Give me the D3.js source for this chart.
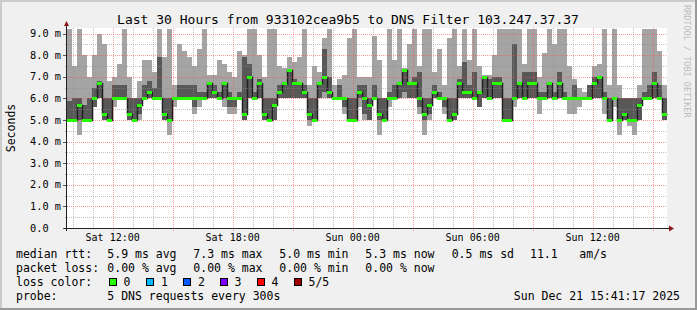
<!DOCTYPE html>
<html><head><meta charset="utf-8">
<script src="https://cdn.jsdelivr.net/npm/d3@7"></script>
<style>
body{margin:0;background:#f0f0f0}
svg{display:block}
text{font-family:"DejaVu Sans Mono",monospace;fill:#000}
</style>
</head><body><svg id="c" width="697" height="310"></svg>
<script>
// ---------- data ----------
const titleText = "Last 30 Hours from 933102cea9b5 to DNS Filter 103.247.37.37";
const startTime = new Date(Date.UTC(2025, 11, 20, 9, 43));
const endTime = new Date(Date.UTC(2025, 11, 21, 15, 43));
const stepMinutes = 15;

// median rtt per 15 min sample (ms)
const medianRtt = [
5.0,5.0,5.7,5.0,5.0,6.0,6.7,5.3,5.0,6.0, 6.0,6.0,5.3,5.0,5.7,6.0,6.3,6.0,6.0,5.3,
5.0,6.0,6.0,6.0,6.0,6.0,6.0,6.0,6.7,6.3, 6.0,6.7,6.0,6.0,6.0,5.3,7.0,6.0,6.7,5.3,
5.0,5.7,6.3,6.7,7.3,6.7,6.7,6.3,5.3,5.0, 6.7,7.0,6.3,6.0,6.0,6.0,5.0,5.0,6.3,6.0,
5.7,6.0,5.3,5.0,6.0,6.0,6.7,7.3,6.7,6.7, 6.0,5.3,5.7,6.3,6.0,6.0,5.0,5.3,6.7,6.3,
6.3,6.0,6.3,7.0,6.0,6.7,6.7,5.0,5.0,6.0, 6.7,6.0,6.7,6.7,6.0,6.0,6.7,6.0,6.7,6.0,
6.0,6.0,6.0,6.0,6.0,6.7,7.0,6.0,5.0,6.0, 5.0,5.3,5.0,5.0,5.7,6.0,6.0,6.7,6.0,5.3
];
// smoke: sorted pings (min, 2nd, 4th, max) per sample (ms)
const pingMin = [
4.9,4.9,4.3,4.9,5.0,5.6,6.0,5.0,4.9,5.6, 6.0,6.0,5.0,4.9,5.0,6.0,6.0,6.0,6.0,5.0,
4.3,5.6,6.0,6.0,6.0,5.3,5.6,6.0,6.0,6.0, 6.0,5.6,5.3,5.3,6.0,5.0,6.0,6.0,6.0,5.0,
5.0,5.0,6.0,6.0,6.0,6.0,6.0,6.0,4.7,5.0, 6.0,6.0,6.0,6.0,6.0,5.3,5.0,5.0,5.6,5.0,
5.0,6.0,4.3,4.9,5.6,6.0,6.0,6.0,6.0,6.0, 5.3,4.3,5.0,6.0,6.0,5.3,5.0,5.0,6.0,6.0,
6.0,6.0,5.6,6.0,6.0,6.0,6.0,5.0,5.0,5.6, 6.0,6.0,6.0,6.0,5.3,6.0,6.0,6.0,6.0,6.0,
5.3,5.3,5.6,6.0,6.0,6.0,6.0,5.3,5.0,5.6, 4.3,5.0,4.7,4.3,5.0,6.0,6.0,6.0,6.0,5.0
];
const pingLo = [
5.0,5.0,5.0,5.0,5.0,5.6,6.0,5.0,5.0,6.0, 6.0,6.0,5.0,5.0,5.3,6.0,6.0,6.0,6.0,5.0,
5.0,6.0,6.0,6.0,6.0,5.6,6.0,6.0,6.0,6.0, 6.0,6.0,5.6,5.6,6.0,5.0,6.0,6.0,6.0,5.0,
5.0,5.0,6.0,6.0,6.0,6.0,6.0,6.0,5.0,5.0, 6.0,6.3,6.0,6.0,6.0,5.6,5.0,5.0,6.0,5.3,
5.0,6.0,5.0,5.0,6.0,6.0,6.0,6.3,6.0,6.0, 5.6,5.0,5.3,6.0,6.0,5.6,5.0,5.0,6.0,6.0,
6.0,6.0,5.6,6.0,6.0,6.0,6.0,5.0,5.0,6.0, 6.0,6.0,6.0,6.0,6.0,6.0,6.0,6.0,6.0,6.0,
6.0,6.0,6.0,6.0,6.0,6.0,6.0,6.0,5.0,6.0, 5.0,5.0,5.0,5.0,5.0,6.0,6.0,6.0,6.0,5.0
];
const pingHi = [
5.9,6.0,6.0,5.7,6.0,6.5,6.8,6.0,6.0,6.6, 6.6,6.6,6.0,6.0,6.0,6.6,6.8,6.5,7.9,6.0,
6.0,6.0,6.6,6.6,6.6,6.6,6.3,6.3,6.7,6.6, 6.3,6.7,6.3,6.0,6.3,7.9,7.6,6.3,6.9,6.0,
6.0,6.0,6.6,6.7,7.3,6.9,6.7,6.6,6.0,6.0, 6.7,8.3,7.0,6.0,6.6,6.0,6.0,6.0,6.6,6.6,
6.0,6.6,6.0,6.0,6.3,6.6,6.7,7.3,6.7,7.0, 7.2,6.0,6.0,6.6,6.3,6.0,6.0,6.0,6.9,7.7,
6.6,7.2,6.3,7.0,6.9,7.0,7.0,6.0,6.0,8.5, 6.7,7.2,7.2,7.2,6.3,6.3,6.7,6.3,7.2,6.3,
6.0,6.6,6.0,6.0,6.6,7.0,7.0,6.3,6.0,6.0, 6.0,6.0,6.0,6.0,6.0,6.3,6.6,7.2,6.6,6.0
];
const pingMax = [
9.2,7.5,9.2,8.0,7.0,8.0,9.0,8.5,6.8,7.0, 7.6,9.2,7.0,6.0,6.8,7.8,7.8,7.2,9.2,7.9,
9.2,6.6,8.5,8.2,7.9,7.5,8.3,9.2,7.1,7.1, 7.8,7.6,7.2,7.0,8.2,8.0,9.2,9.2,8.0,7.0,
9.2,9.2,7.5,7.4,7.9,7.7,7.9,9.2,6.6,7.5, 7.2,8.8,9.2,6.6,6.9,7.1,8.8,9.2,7.0,7.0,
7.0,8.9,7.8,6.0,9.2,7.8,9.2,7.4,8.5,9.2, 7.5,9.2,9.2,7.2,8.3,6.6,8.8,9.2,7.5,9.2,
7.8,9.2,7.5,7.1,7.1,8.0,9.2,9.2,9.2,9.2, 9.2,7.6,9.2,9.2,7.0,8.1,9.2,8.5,9.2,9.2,
7.5,6.9,6.5,6.3,6.6,7.5,7.6,9.2,6.6,9.2, 6.6,6.0,6.0,6.0,6.6,9.2,9.2,9.2,8.2,6.6
];

const yTickValues = [0,1,2,3,4,5,6,7,8,9];
const yTickLabels = ["0.0","1.0 m","2.0 m","3.0 m","4.0 m","5.0 m","6.0 m","7.0 m","8.0 m","9.0 m"];
const xTickTimes = [
  new Date(Date.UTC(2025,11,20,12)), new Date(Date.UTC(2025,11,20,18)),
  new Date(Date.UTC(2025,11,21,0)), new Date(Date.UTC(2025,11,21,6)),
  new Date(Date.UTC(2025,11,21,12))
];
const xTickLabels = ["Sat 12:00","Sat 18:00","Sun 00:00","Sun 06:00","Sun 12:00"];

const lossColorLabels = ["0","1","2","3","4","5/5"];
const lossColors = ["#26ff00","#00b8ff","#0059ff","#7e00ff","#ff0000","#a10000"];
const rttRow = ["5.9 ms avg","7.3 ms max","5.0 ms min","5.3 ms now","0.5 ms sd","11.1","am/s"];
const lossRow = ["0.00 % avg","0.00 % max","0.00 % min","0.00 % now"];
const probeText = "5 DNS requests every 300s";
const stampText = "Sun Dec 21 15:41:17 2025";

// ---------- drawing ----------
const svg = d3.select("#c");
const W = 697, H = 310;
const L = 67, R = 667, T = 28, B = 228;

svg.append("rect").attr("width", W).attr("height", H).attr("fill", "#f0f0f0");
// frame
svg.append("rect").attr("x",0).attr("y",0).attr("width",W).attr("height",2).attr("fill","#cbcbcb");
svg.append("rect").attr("x",0).attr("y",0).attr("width",2).attr("height",H).attr("fill","#cbcbcb");
svg.append("rect").attr("x",0).attr("y",H-2).attr("width",W).attr("height",2).attr("fill","#999");
svg.append("rect").attr("x",W-2).attr("y",0).attr("width",2).attr("height",H).attr("fill","#999");

svg.append("rect").attr("x", L).attr("y", T).attr("width", R-L).attr("height", B-T).attr("fill", "#fff");

const x = d3.scaleUtc().domain([startTime, endTime]).range([L, R]);
const y = d3.scaleLinear().domain([0, 9.259]).range([B, T]);
const tAt = i => new Date(startTime.getTime() + i*stepMinutes*60000);

const plot = svg.append("g").attr("shape-rendering","crispEdges");
const bands = [
  {lo: pingMin, hi: pingLo, color: "#a4a4a4"},
  {lo: pingLo, hi: medianRtt, color: "#585858"},
  {lo: medianRtt, hi: pingHi, color: "#585858"},
  {lo: pingHi, hi: pingMax, color: "#a4a4a4"}
];
bands.forEach(b => {
  plot.append("g").selectAll("rect").data(d3.range(medianRtt.length).filter(i => b.hi[i] > b.lo[i]))
    .join("rect")
    .attr("x", i => x(tAt(i)))
    .attr("width", i => x(tAt(i+1)) - x(tAt(i)))
    .attr("y", i => y(Math.min(b.hi[i], 9.259)))
    .attr("height", i => y(b.lo[i]) - y(Math.min(b.hi[i], 9.259)))
    .attr("fill", b.color);
});

// median line
const medPts = medianRtt.map((v,i)=>[tAt(i), v]);
medPts.push([tAt(medianRtt.length), medianRtt[medianRtt.length-1]]);
svg.append("path")
  .attr("d", d3.line().x(d=>Math.round(x(d[0]))+0.5).y(d=>Math.round(y(d[1]))+0.5).curve(d3.curveStepAfter)(medPts))
  .attr("fill","none").attr("stroke","#202020").attr("stroke-width",1.5);

// grid
const grid = svg.append("g").attr("shape-rendering","crispEdges");
const minorH = d3.range(0, 9.26, 0.5).filter(v => Math.abs(v - Math.round(v)) > 0.01);
grid.selectAll(".mh").data(minorH).join("line")
  .attr("x1", L-2).attr("x2", R).attr("y1", d=>Math.round(y(d))+0.5).attr("y2", d=>Math.round(y(d))+0.5)
  .attr("stroke","rgba(140,140,140,0.55)").attr("stroke-dasharray","1,1");
const hours = d3.utcHour.range(startTime, endTime);
grid.selectAll(".mv").data(hours.filter(h => h.getUTCHours()%3 !== 0)).join("line")
  .attr("x1", d=>Math.round(x(d))+0.5).attr("x2", d=>Math.round(x(d))+0.5).attr("y1", T).attr("y2", B+2)
  .attr("stroke","rgba(140,140,140,0.55)").attr("stroke-dasharray","1,1");
grid.selectAll(".Mh").data(yTickValues.slice(1)).join("line")
  .attr("x1", L-2).attr("x2", R).attr("y1", d=>Math.round(y(d))+0.5).attr("y2", d=>Math.round(y(d))+0.5)
  .attr("stroke","rgba(240,80,80,0.55)").attr("stroke-dasharray","1,1");
grid.selectAll(".Mv").data(hours.filter(h => h.getUTCHours()%3 === 0)).join("line")
  .attr("x1", d=>Math.round(x(d))+0.5).attr("x2", d=>Math.round(x(d))+0.5).attr("y1", T).attr("y2", B+3)
  .attr("stroke","rgba(240,80,80,0.55)").attr("stroke-dasharray","1,1");
// y ticks
grid.selectAll(".yt").data(yTickValues).join("line")
  .attr("x1", L-4).attr("x2", L).attr("y1", d=>Math.round(y(d))+0.5).attr("y2", d=>Math.round(y(d))+0.5)
  .attr("stroke","#555");

// loss colour marks on the median (all samples 0 loss)
svg.append("g").attr("shape-rendering","crispEdges").selectAll("rect").data(medianRtt).join("rect")
  .attr("x", (d,i)=>x(tAt(i)))
  .attr("width", (d,i)=>x(tAt(i+1))-x(tAt(i)))
  .attr("y", d=>Math.round(y(d))-1)
  .attr("height", 3)
  .attr("fill", lossColors[0]);

// axes
svg.append("line").attr("x1", L-3).attr("x2", R+4).attr("y1", B+0.5).attr("y2", B+0.5).attr("stroke","#222").attr("shape-rendering","crispEdges");
svg.append("line").attr("x1", L-0.5).attr("x2", L-0.5).attr("y1", B+3).attr("y2", T-4).attr("stroke","#222").attr("shape-rendering","crispEdges");
svg.append("path").attr("d", `M${R+2},${B-2.5} L${R+7},${B+0.5} L${R+2},${B+3.5} Z`).attr("fill","#8b1a1a");
svg.append("path").attr("d", `M${L-3},${T-2} L${L-0.5},${T-7} L${L+2},${T-2} Z`).attr("fill","#8b1a1a");

// axis labels
svg.append("g").selectAll("text").data(yTickValues).join("text")
  .attr("x", 30).attr("y", d=>y(d)+3.7).attr("font-size", 10.3)
  .text((d,i)=>yTickLabels[i]);
svg.append("g").selectAll("text").data(xTickTimes).join("text")
  .attr("x", d=>x(d)).attr("y", 240.5).attr("text-anchor","middle").attr("font-size", 10)
  .text((d,i)=>xTickLabels[i]);

svg.append("text").attr("transform","translate(15,128) rotate(-90)").attr("text-anchor","middle")
  .attr("font-size", 11.5).text("Seconds");

svg.append("text").attr("x", 348).attr("y", 23.5).attr("text-anchor","middle").attr("font-size", 13).text(titleText);

svg.append("text").attr("transform","translate(684,5) rotate(90)").attr("font-size", 8.5)
  .style("fill","#bdbdbd").text("RRDTOOL / TOBI OETIKER");

// legend
const fs = 11.5;
const rowY = [258, 272, 286, 300];
const rttX = [107.3, 193.3, 279.3, 365.3, 451.7, 530, 579.3];
const leg = svg.append("g").attr("font-size", fs);
leg.append("text").attr("x",16).attr("y",rowY[0]).text("median rtt:");
rttRow.forEach((t,i)=>leg.append("text").attr("x",rttX[i]).attr("y",rowY[0]).text(t));
leg.append("text").attr("x",16).attr("y",rowY[1]).text("packet loss:");
lossRow.forEach((t,i)=>leg.append("text").attr("x",rttX[i]).attr("y",rowY[1]).text(t));
leg.append("text").attr("x",16).attr("y",rowY[2]).text("loss color:");
const boxX = [108.5, 146, 183, 219.5, 256.5, 293.5];
lossColors.forEach((c,i)=>{
  leg.append("rect").attr("x",boxX[i]+0.5).attr("y",278.5).attr("width",7).attr("height",7)
    .attr("fill",c).attr("stroke","#000").attr("stroke-width",1).attr("shape-rendering","crispEdges");
  leg.append("text").attr("x",boxX[i]+15).attr("y",rowY[2]).text(lossColorLabels[i]);
});
leg.append("text").attr("x",16).attr("y",rowY[3]).text("probe:");
leg.append("text").attr("x",107.3).attr("y",rowY[3]).text(probeText);
leg.append("text").attr("x",680).attr("y",rowY[3]).attr("text-anchor","end").text(stampText);
</script>
</body></html>
